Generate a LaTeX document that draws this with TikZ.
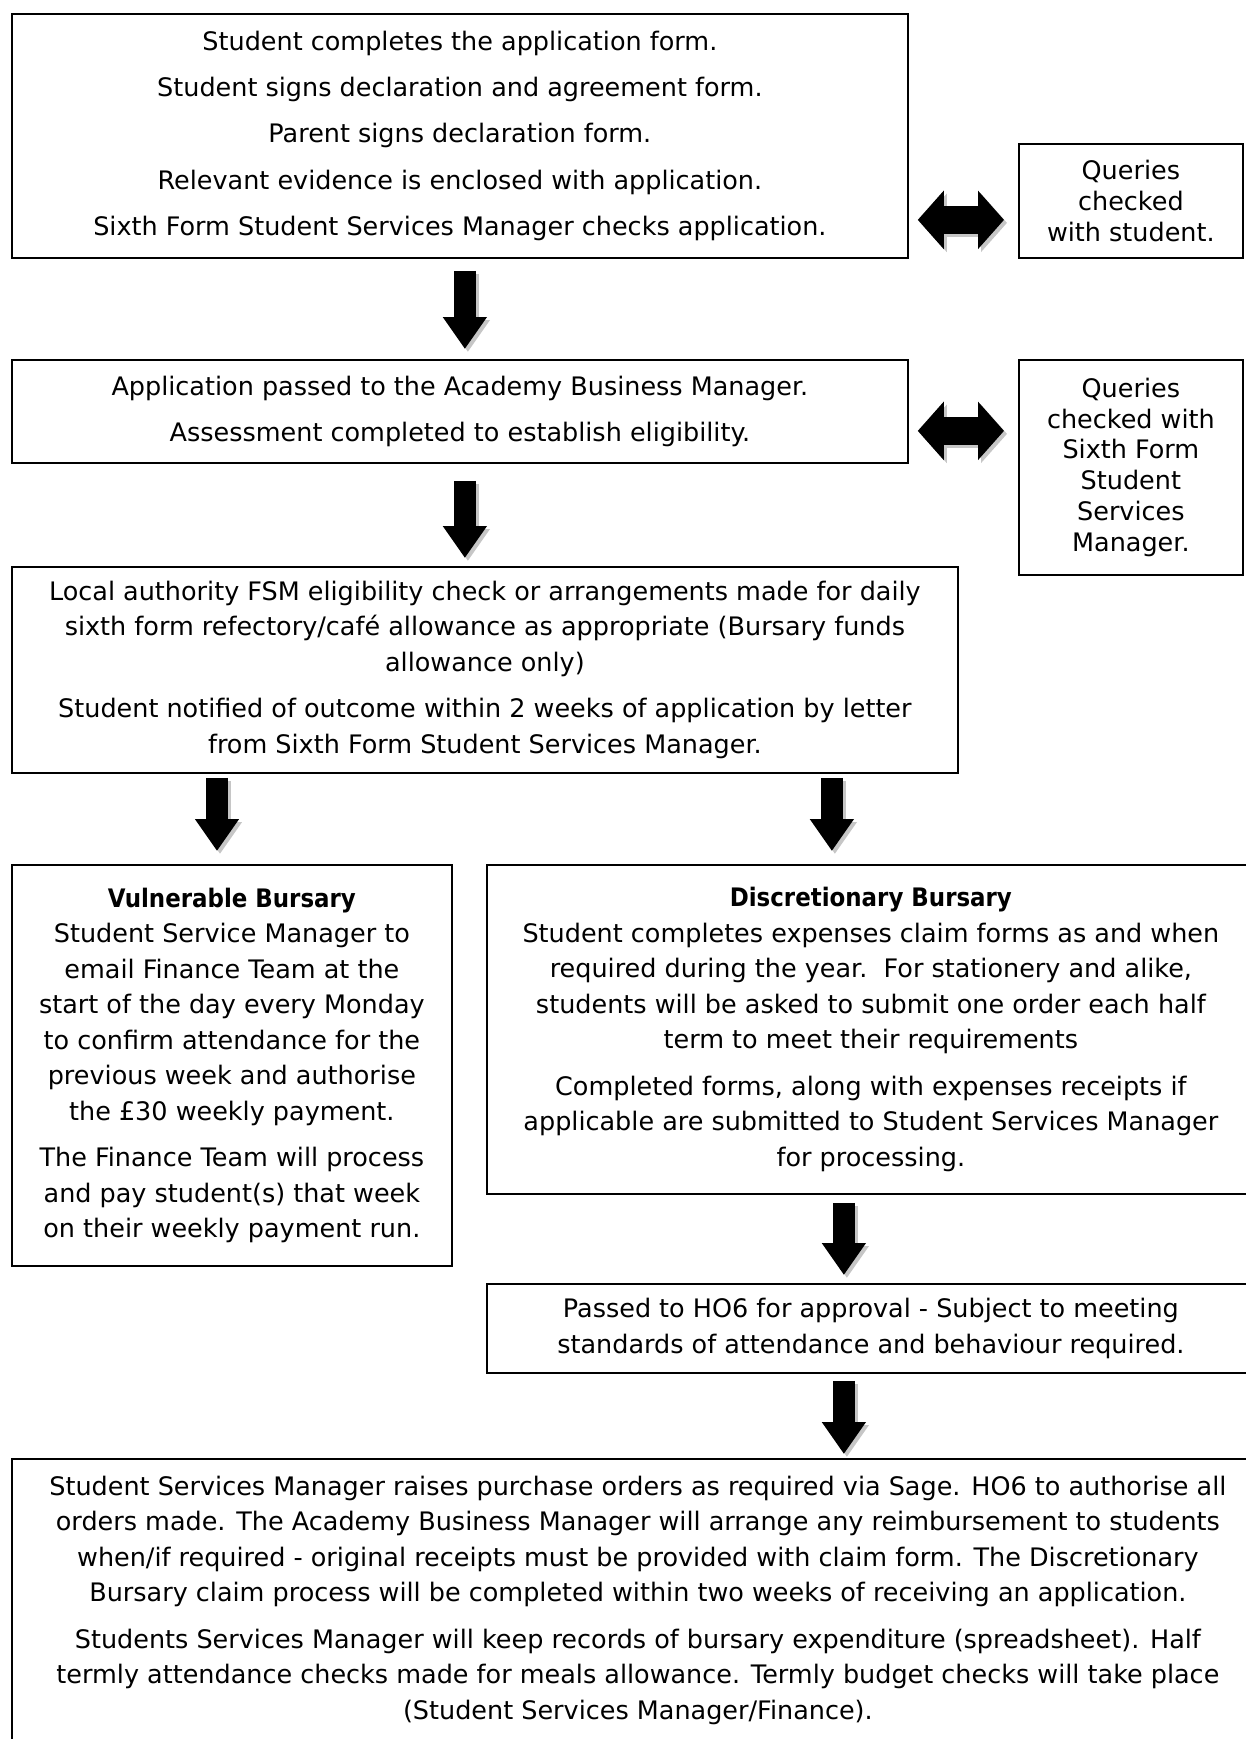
\documentclass[tikz,border=0pt]{standalone}
\usepackage{fontspec}
\setmainfont{DejaVu Sans}[BoldFeatures={FakeStretch=0.9}]
\usetikzlibrary{positioning,calc,arrows.meta}

\begin{document}
\begin{tikzpicture}[y=-1cm, font=\fontsize{14.5}{20.2}\selectfont,
          box/.style={draw, line width=1pt, align=center, anchor=north west,
                      inner sep=0pt},
          query/.style={box, font=\fontsize{14.5}{17.6}\selectfont},
          down/.style={line width=0.44cm,
                       -{Triangle[width=0.84cm,length=0.64cm]}},
          both/.style={line width=0.56cm,
                       {Triangle[width=1.14cm,length=0.52cm]}-{Triangle[width=1.14cm,length=0.52cm]}},
          shade/.style={gray!45, transform canvas={shift={(0.06,0.06)}}}]
        \useasboundingbox (0,0) rectangle (24.9,34.78);
        % application stage
        \node[box, minimum width=17.92cm, minimum height=4.88cm,
              font=\fontsize{14.5}{26.4}\selectfont] (app) at (0.22,0.26)
          {Student completes the application form.\\
           Student signs declaration and agreement form.\\
           Parent signs declaration form.\\
           Relevant evidence is enclosed with application.\\
           Sixth Form Student Services Manager checks application.};
        \node[query, minimum width=4.48cm, minimum height=2.28cm] (q1) at (20.36,2.86)
          {Queries\\ checked\\ with student.};
        \node[box, minimum width=17.92cm, minimum height=2.06cm,
              font=\fontsize{14.5}{26.4}\selectfont] (abm) at (0.22,7.18)
          {Application passed to the Academy Business Manager.\\
           Assessment completed to establish eligibility.};
        \node[query, minimum width=4.48cm, minimum height=4.3cm] (q2) at (20.36,7.18)
          {Queries\\ checked with\\ Sixth Form\\ Student\\ Services\\ Manager.};
        \node[box, minimum width=18.92cm, minimum height=4.12cm] (fsm) at (0.22,11.32)
          {Local authority FSM eligibility check or arrangements made for daily\\
           sixth form refectory/café allowance as appropriate (Bursary funds\\
           allowance only)\\[6.2pt]
           Student notified of outcome within 2 weeks of application by letter\\
           from Sixth Form Student Services Manager.};
        % the two bursaries
        \node[box, minimum width=8.8cm, minimum height=8.02cm] (vul) at (0.22,17.28)
          {\textbf{Vulnerable Bursary}\\
           Student Service Manager to\\
           email Finance Team at the\\
           start of the day every Monday\\
           to confirm attendance for the\\
           previous week and authorise\\
           the £30 weekly payment.\\[6.2pt]
           The Finance Team will process\\
           and pay student(s) that week\\
           on their weekly payment run.};
        \node[box, minimum width=15.36cm, minimum height=6.58cm] (dis) at (9.72,17.28)
          {\textbf{Discretionary Bursary}\\
           Student completes expenses claim forms as and when\\
           required during the year.\ \ For stationery and alike,\\
           students will be asked to submit one order each half\\
           term to meet their requirements\\[6.2pt]
           Completed forms, along with expenses receipts if\\
           applicable are submitted to Student Services Manager\\
           for processing.};
        \node[box, minimum width=15.36cm, minimum height=1.78cm] (ho6) at (9.72,25.66)
          {Passed to HO6 for approval - Subject to meeting\\
           standards of attendance and behaviour required.};
        \node[box, minimum width=25.04cm, minimum height=5.66cm] (sage) at (0.22,29.16)
          {Student Services Manager raises purchase orders as required via Sage. HO6 to authorise all\\
           orders made. The Academy Business Manager will arrange any reimbursement to students\\
           when/if required - original receipts must be provided with claim form. The Discretionary\\
           Bursary claim process will be completed within two weeks of receiving an application.\\[6.2pt]
           Students Services Manager will keep records of bursary expenditure (spreadsheet). Half\\
           termly attendance checks made for meals allowance. Termly budget checks will take place\\
           (Student Services Manager/Finance).};
        % block arrows
        \coordinate (s1) at ($(app.south)+(0.1,0.24)$);
        \coordinate (e1) at ($(s1 |- abm.north)+(0,-0.2)$);
        \coordinate (s2) at ($(abm.south)+(0.1,0.34)$);
        \coordinate (e2) at ($(s2 |- fsm.north)+(0,-0.16)$);
        \coordinate (s3) at ($(fsm.south west)+(4.12,0.08)$);
        \coordinate (e3) at ($(s3 |- vul.north)+(0,-0.26)$);
        \coordinate (s4) at ($(fsm.south -| dis.north)+(-0.78,0.08)$);
        \coordinate (e4) at ($(s4 |- dis.north)+(0,-0.26)$);
        \coordinate (s5) at ($(dis.south)+(-0.54,0.16)$);
        \coordinate (e5) at ($(s5 |- ho6.north)+(0,-0.16)$);
        \coordinate (s6) at ($(ho6.south)+(-0.54,0.14)$);
        \coordinate (e6) at ($(s6 |- sage.north)+(0,-0.08)$);
        \foreach \s/\e in {s1/e1, s2/e2, s3/e3, s4/e4, s5/e5, s6/e6} {
          \draw[down, shade] (\s) -- (\e);
          \draw[down] (\s) -- (\e);
        }
        % queries go both ways
        \coordinate (l1) at ($(app.east |- q1.west)+(0.18,0.38)$);
        \coordinate (r1) at ($(q1.west)+(-0.28,0.38)$);
        \coordinate (l2) at ($(abm.east)+(0.18,0.39)$);
        \coordinate (r2) at ($(abm.east -| q2.west)+(-0.28,0.39)$);
        \foreach \l/\r in {l1/r1, l2/r2} {
          \draw[both, shade] (\l) -- (\r);
          \draw[both] (\l) -- (\r);
        }
      \end{tikzpicture}
\end{document}
